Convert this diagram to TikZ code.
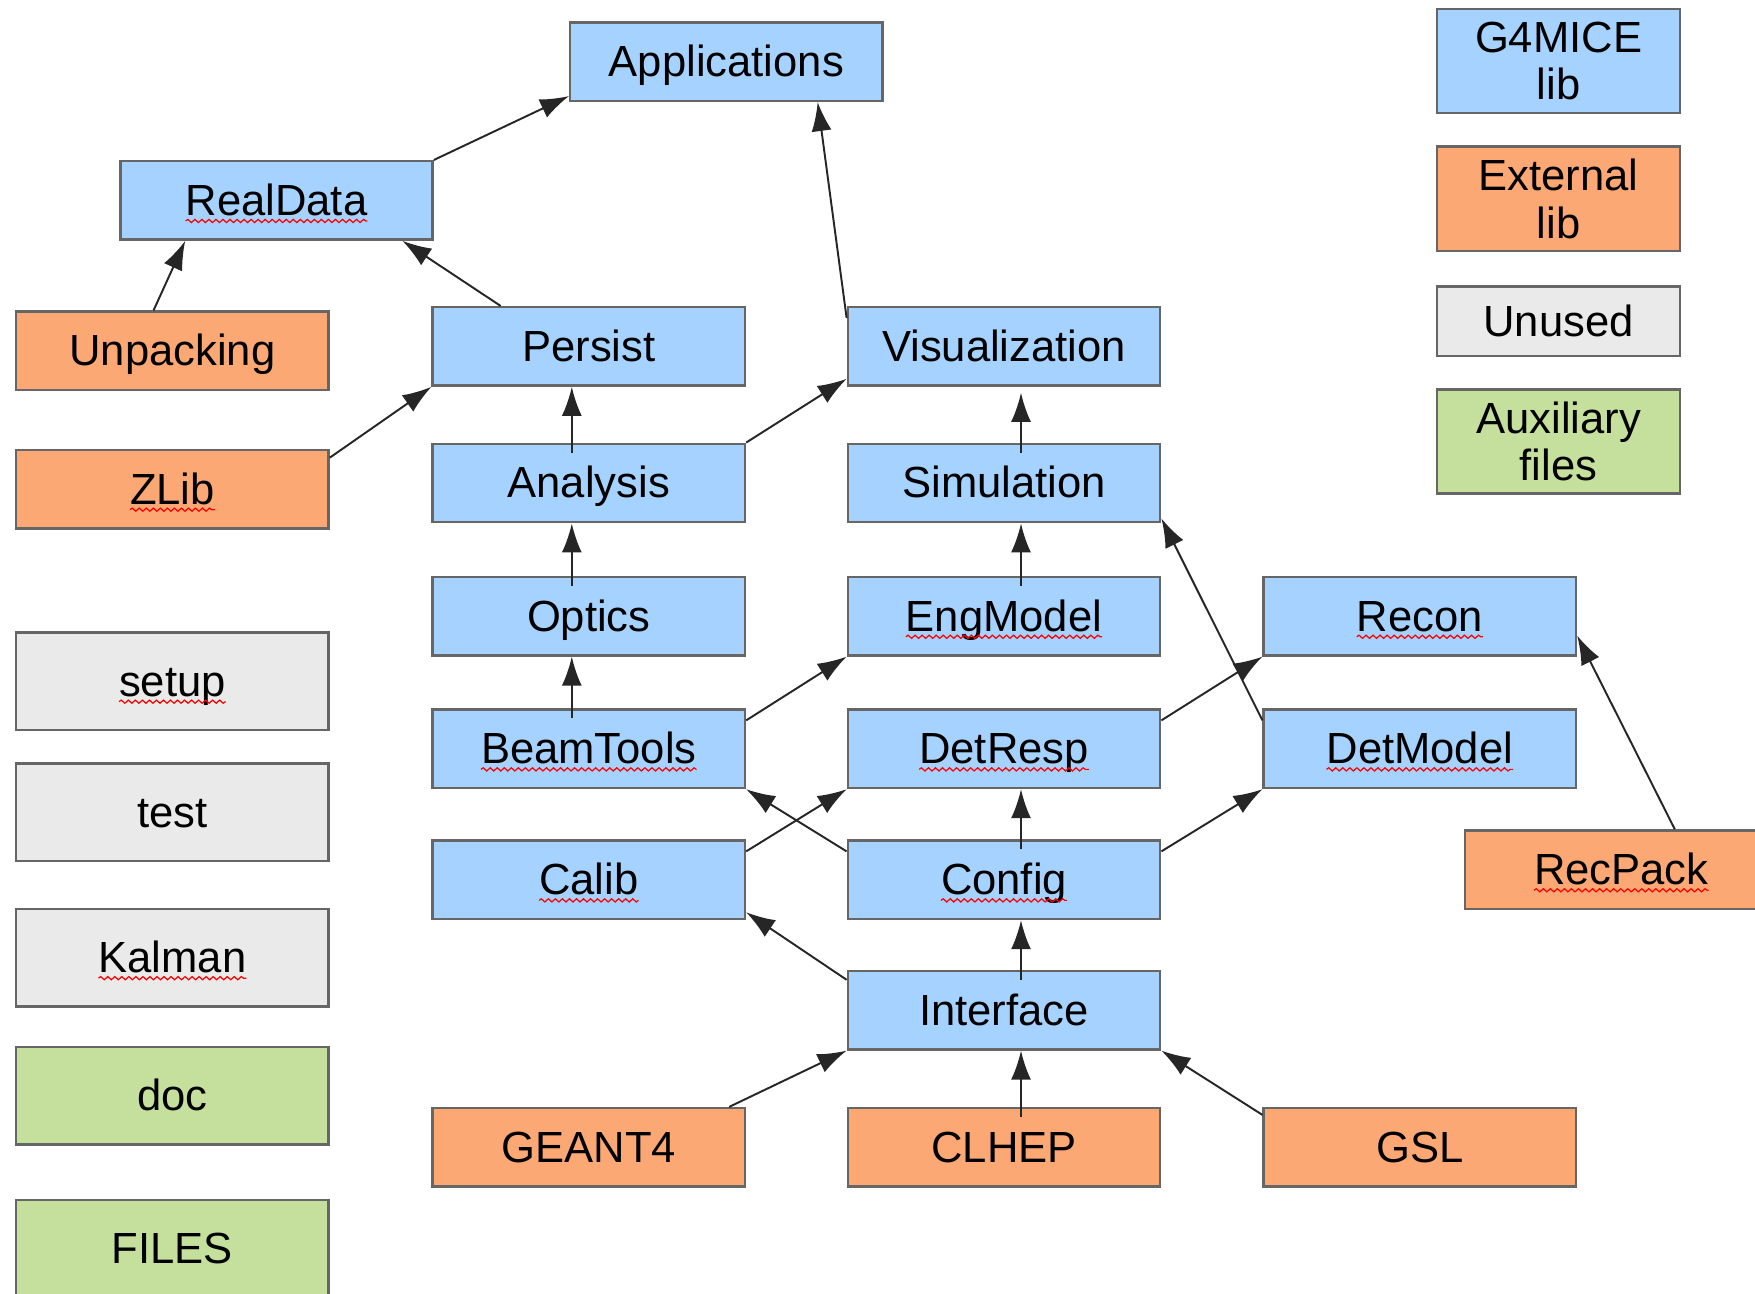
\documentclass[tikz,border=0pt]{standalone}
\usepackage{fontspec}
\setmainfont{Liberation Sans}
\usetikzlibrary{
	arrows.meta,
	calc,
	decorations.pathmorphing
}
\definecolor{libBlue}{RGB}{166,210,255}
\definecolor{extOrange}{RGB}{252,168,116}
\definecolor{unusedGray}{RGB}{234,234,234}
\definecolor{auxGreen}{RGB}{197,223,156}
\tikzset{every path/.append style={line width=0.55pt}}
\tikzset{
	box/.style={draw=black!60,line width=0.7pt,minimum width=3.123cm,minimum height=0.784cm,inner sep=0pt,align=center,text height=11.1pt,text depth=2.6pt,font=\fontsize{12.4}{13.5}\selectfont},
	lib/.style={box,fill=libBlue},
	ext/.style={box,fill=extOrange},
	unused/.style={box,fill=unusedGray,minimum height=0.974cm},
	aux/.style={box,fill=auxGreen,minimum height=0.974cm},
	key/.style={minimum width=2.429cm,minimum height=1.041cm,text height=,text depth=},
	dep/.style={-{Latex[length=2.9mm,width=2mm]},draw=black!85},
	word/.style={draw=none,fill=none,inner sep=0pt,outer sep=0pt,minimum width=0pt,minimum height=0pt,text height=,text depth=},
	squig/.style={red,line width=0.35pt,decorate,decoration={snake,amplitude=0.45pt,segment length=2pt}}
}
\newcommand{\tikzBox}[4][]{\node (#3) at #2 [#1]{#4};}
\newcommand{\sq}[1]{\tikz[baseline=(w.base)]{\node[word] (w) {#1};\draw[squig] ($(w.base west)+(0,-1.6pt)$) -- ($(w.base east)+(0,-1.6pt)$);}}

\begin{document}
\begin{tikzpicture}
	\def\d{0.12}
	\def\t{0.1}
	\useasboundingbox (0,0) rectangle (17.55,-12.93);
	
	% Legend
	\tikzBox[lib,key]{(15.586,-0.610)}{keyLib}{G4MICE\\lib}
	\tikzBox[ext,key]{(15.586,-1.987)}{keyExt}{External\\lib}
	\tikzBox[unused,key,minimum height=0.694cm]{(15.586,-3.212)}{keyUnused}{Unused}
	\tikzBox[aux,key]{(15.586,-4.416)}{keyAux}{Auxiliary\\files}
	
	% Unused and auxiliary
	\tikzBox[unused]{(1.724,-6.811)}{setup}{\sq{setup}}
	\tikzBox[unused]{(1.724,-8.121)}{test}{test}
	\tikzBox[unused]{(1.724,-9.576)}{kalman}{\sq{Kalman}}
	\tikzBox[aux]{(1.724,-10.958)}{doc}{doc}
	\tikzBox[aux]{(1.724,-12.486)}{files}{FILES}
	
	% Libraries
	\tikzBox[lib]{(7.264,-0.616)}{apps}{Applications}
	\tikzBox[lib]{(2.765,-2.004)}{realdata}{\sq{RealData}}
	\tikzBox[ext]{(1.724,-3.509)}{unpacking}{Unpacking}
	\tikzBox[lib]{(5.888,-3.464)}{persist}{Persist}
	\tikzBox[lib]{(10.040,-3.464)}{vis}{Visualization}
	\tikzBox[ext]{(1.724,-4.891)}{zlib}{\sq{ZLib}}
	\tikzBox[lib]{(5.888,-4.830)}{analysis}{Analysis}
	\tikzBox[lib]{(10.040,-4.830)}{sim}{Simulation}
	\tikzBox[lib]{(5.888,-6.162)}{optics}{Optics}
	\tikzBox[lib]{(10.040,-6.162)}{engmodel}{\sq{EngModel}}
	\tikzBox[lib]{(14.198,-6.162)}{recon}{\sq{Recon}}
	\tikzBox[lib]{(5.888,-7.488)}{beamtools}{\sq{BeamTools}}
	\tikzBox[lib]{(10.040,-7.488)}{detresp}{\sq{DetResp}}
	\tikzBox[lib]{(14.198,-7.488)}{detmodel}{\sq{DetModel}}
	\tikzBox[lib]{(5.888,-8.798)}{calib}{\sq{Calib}}
	\tikzBox[lib]{(10.040,-8.798)}{config}{\sq{Config}}
	\tikzBox[ext]{(16.213,-8.697)}{recpack}{\sq{RecPack}}
	\tikzBox[lib]{(10.040,-10.102)}{interface}{Interface}
	\tikzBox[ext]{(5.888,-11.473)}{geant}{GEANT4}
	\tikzBox[ext]{(10.040,-11.473)}{clhep}{CLHEP}
	\tikzBox[ext]{(14.198,-11.473)}{gsl}{GSL}
	
	% Upper part
	\draw[dep] (realdata.north east) -- ($(apps.south west)+(0,0.06)$);
	\draw[dep] ($(vis.north west)+(0,-\d)$) -- ($(apps.south west)!0.79!(apps.south east)$);
	\draw[dep] ($(unpacking.north west)!0.44!(unpacking.north east)$) -- ($(realdata.south west)!0.21!(realdata.south east)$);
	\draw[dep] ($(persist.north west)!0.22!(persist.north east)$) -- ($(realdata.south west)!0.9!(realdata.south east)$);
	\draw[dep] ($(zlib.north east)+(0,-0.09)$) -- (persist.south west);
	\draw[dep] ($(analysis.north west)!0.446!(analysis.north east)+(0,-\t)$) -- ($(persist.south west)!0.446!(persist.south east)$);
	\draw[dep] (analysis.north east) -- ($(vis.south west)+(0,0.08)$);
	\draw[dep] ($(sim.north west)!0.554!(sim.north east)+(0,-\t)$) -- ($(vis.south west)!0.554!(vis.south east)+(0,-0.06)$);
	
	% Middle part
	\draw[dep] ($(optics.north west)!0.446!(optics.north east)+(0,-\t)$) -- ($(analysis.south west)!0.446!(analysis.south east)$);
	\draw[dep] ($(engmodel.north west)!0.554!(engmodel.north east)+(0,-\t)$) -- ($(sim.south west)!0.554!(sim.south east)$);
	\draw[dep] ($(beamtools.north west)!0.446!(beamtools.north east)+(0,-\t)$) -- ($(optics.south west)!0.446!(optics.south east)$);
	\draw[dep] ($(beamtools.north east)+(0,-\d)$) -- (engmodel.south west);
	\draw[dep] ($(detmodel.north west)+(0,-\d)$) -- ($(sim.south east)+(0,0.05)$);
	\draw[dep] ($(detresp.north east)+(0,-\d)$) -- (recon.south west);
	\draw[dep] ($(recpack.north west)!0.67!(recpack.north east)$) -- ($(recon.north east)!0.74!(recon.south east)$);
	
	% Lower part
	\draw[dep] ($(calib.north east)+(0,-\d)$) -- (detresp.south west);
	\draw[dep] ($(config.north west)+(0,-\d)$) -- (beamtools.south east);
	\draw[dep] ($(config.north west)!0.554!(config.north east)+(0,-\t)$) -- ($(detresp.south west)!0.554!(detresp.south east)$);
	\draw[dep] ($(config.north east)+(0,-\d)$) -- (detmodel.south west);
	\draw[dep] ($(interface.north west)!0.554!(interface.north east)+(0,-\t)$) -- ($(config.south west)!0.554!(config.south east)$);
	\draw[dep] ($(interface.north west)+(0,-0.1)$) -- ($(calib.south east)+(0,0.08)$);
	\draw[dep] ($(geant.north west)!0.946!(geant.north east)$) -- (interface.south west);
	\draw[dep] ($(clhep.north west)!0.554!(clhep.north east)+(0,-\t)$) -- ($(interface.south west)!0.554!(interface.south east)$);
	\draw[dep] ($(gsl.north west)+(0,-0.08)$) -- (interface.south east);
\end{tikzpicture}
\end{document}
